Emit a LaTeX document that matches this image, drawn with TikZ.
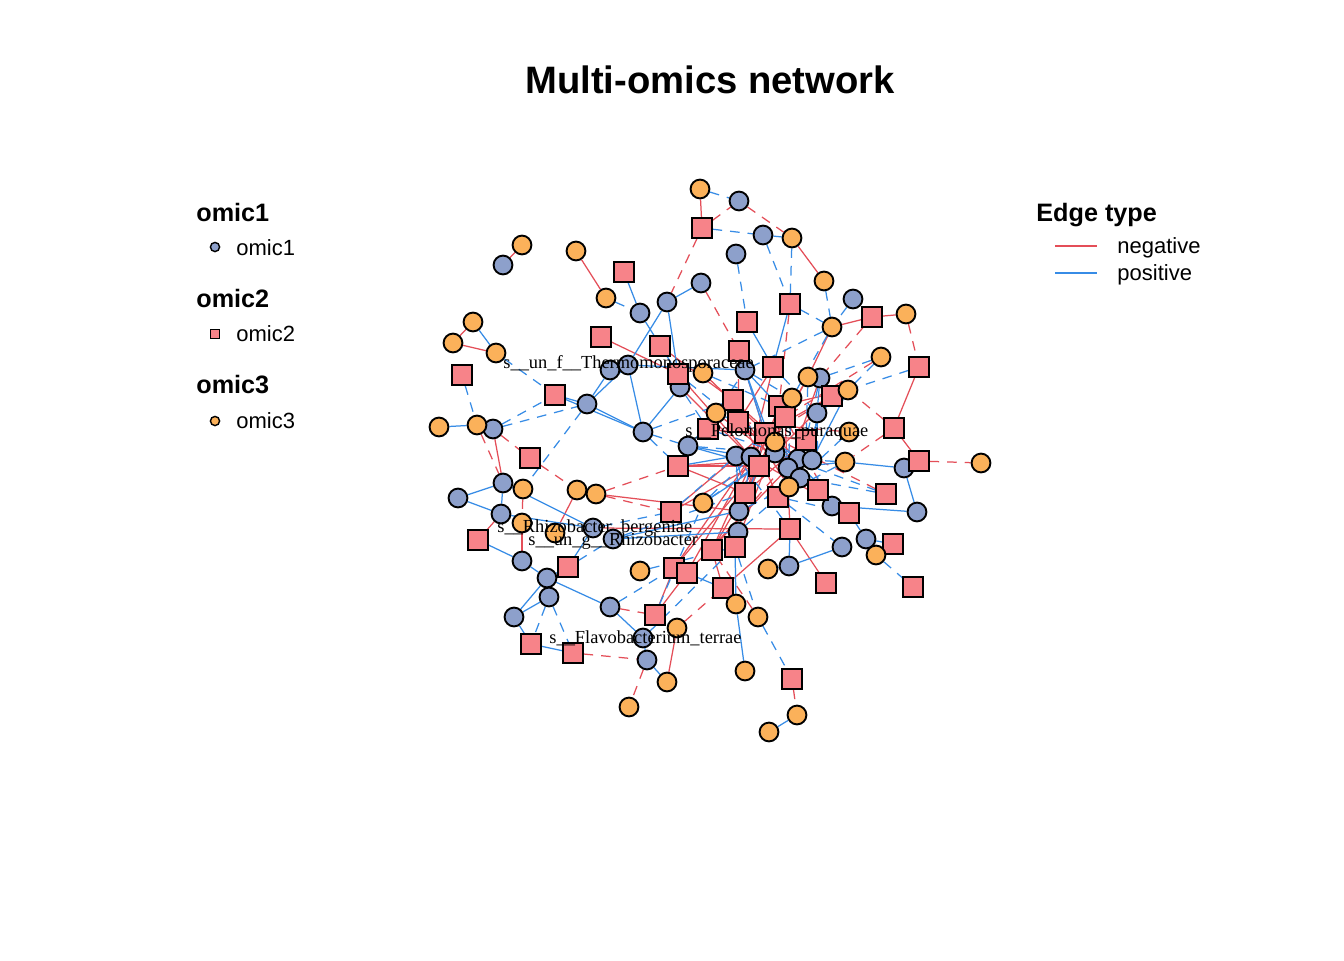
\documentclass[tikz,border=0pt]{standalone}
\usepackage{fontspec}
\setmainfont{Liberation Sans}
\newfontfamily\labfont{Liberation Serif}
\pgfdeclarelayer{bglayer}
\pgfdeclarelayer{edgelayer}
\pgfsetlayers{bglayer,edgelayer,main}
\definecolor{fillA}{RGB}{141,160,203}
\definecolor{fillB}{RGB}{247,131,137}
\definecolor{fillC}{RGB}{251,177,90}
\definecolor{negc}{RGB}{228,78,88}
\definecolor{posc}{RGB}{55,140,230}
\tikzset{
  oA/.style={circle,draw=black,line width=0.95pt,fill=fillA,minimum size=9.4pt,inner sep=0pt},
  oB/.style={rectangle,draw=black,line width=0.95pt,fill=fillB,minimum size=9.6pt,inner sep=0pt},
  oC/.style={circle,draw=black,line width=0.95pt,fill=fillC,minimum size=9.4pt,inner sep=0pt},
  negS/.style={draw=negc,line width=0.62pt},
  negD/.style={negS,dash pattern=on 4.8pt off 4pt},
  posS/.style={draw=posc,line width=0.62pt},
  posD/.style={posS,dash pattern=on 4.8pt off 4pt},
  lab/.style={font=\labfont\fontsize{9.2}{10}\selectfont,inner sep=0pt,anchor=base west},
  head/.style={font=\fontsize{12.6}{14}\selectfont\bfseries,inner sep=0pt,anchor=base west},
  legtxt/.style={font=\fontsize{11}{13}\selectfont,inner sep=0pt,anchor=base west},
  legA/.style={circle,draw=black,line width=0.7pt,fill=fillA,minimum size=4.6pt,inner sep=0pt},
  legB/.style={rectangle,draw=black,line width=0.7pt,fill=fillB,minimum size=4.6pt,inner sep=0pt},
  legC/.style={circle,draw=black,line width=0.7pt,fill=fillC,minimum size=4.6pt,inner sep=0pt},
}
\begin{document}
\begin{tikzpicture}[x=0.5pt,y=-0.5pt]
\useasboundingbox (0,0) rectangle (1344,960);
\begin{pgfonlayer}{bglayer}
\fill[white] (0,0) rectangle (1344,960);
\end{pgfonlayer}

% title
\node[font=\fontsize{19.1}{22}\selectfont\bfseries,inner sep=0pt,anchor=base] (title) at (710,93) {Multi-omics network};

% omic1 nodes
\foreach \n/\x/\y in {a1/739/201,a2/763/235,a3/736/254,a4/503/265,a5/701/283,a6/667/302,a7/640/313,a8/853/299,
  a9/610/370,a10/628/365,a11/680/387,a12/745/370,a13/820/378,a14/587/404,a15/817/413,a16/493/429,a17/643/432,
  a18/688/446,a19/736/456,a20/751/457,a21/775/453,a22/798/459,a23/812/460,a24/788/468,a25/800/478,a26/904/468,
  a27/503/483,a28/458/498,a29/501/514,a30/593/528,a31/613/539,a32/739/511,a33/832/506,a34/917/512,a35/738/532,
  a36/866/539,a37/842/547,a38/789/566,a39/522/561,a40/547/578,a41/549/597,a42/514/617,a43/610/607,a44/643/638,a45/647/660}
  \node[oA] (\n) at (\x,\y) {};

% omic2 nodes
\foreach \n/\x/\y in {b1/702/228,b2/624/272,b3/790/304,b4/872/317,b5/747/322,b6/601/337,b7/660/346,b8/739/351,
  b9/773/367,b10/919/367,b11/462/375,b12/678/374,b13/555/395,b14/832/396,b15/733/400,b16/779/406,b17/785/417,
  b18/738/422,b19/708/429,b20/765/433,b21/806/440,b22/894/428,b23/530/458,b24/678/466,b25/759/466,b26/919/461,
  b27/818/490,b28/745/493,b29/778/497,b30/886/494,b31/671/512,b32/849/513,b33/790/529,b34/478/540,b35/893/544,
  b36/712/550,b37/735/547,b38/568/567,b39/674/568,b40/687/573,b41/826/583,b42/913/587,b43/723/588,b44/655/615,
  b45/531/644,b46/573/653,b47/792/679}
  \node[oB] (\n) at (\x,\y) {};

% omic3 nodes
\foreach \n/\x/\y in {c1/700/189,c2/792/238,c3/522/245,c4/576/251,c5/606/298,c6/824/281,c7/906/314,c8/832/327,
  c9/473/322,c10/453/343,c11/496/353,c12/881/357,c13/703/373,c14/808/377,c15/848/390,c16/792/398,c17/716/413,
  c18/439/427,c19/477/425,c20/849/432,c21/775/442,c22/845/462,c23/981/463,c24/523/489,c25/577/490,c26/596/494,
  c27/789/487,c28/703/503,c29/522/523,c30/555/533,c31/876/555,c32/640/571,c33/768/569,c34/736/604,c35/758/617,
  c36/677/628,c37/667/682,c38/629/707,c39/745/671,c40/797/715,c41/769/732}
  \node[oC] (\n) at (\x,\y) {};

\begin{pgfonlayer}{edgelayer}
\foreach \u/\v in {c3/a4,c4/c5,c9/c10,c10/c11,b1/c1,c2/c6,c8/b4,b4/c7,c8/c14,b6/b12,b7/b15,b10/b22,b22/b26,
  a16/a27,c25/c30,c29/a39,b34/a29,b44/b39,b44/b40,c36/c37,b41/b33,b43/b33,b43/b36,b8/b20,b9/b18,b9/a20,
  c14/b17,c14/b25,b14/b20,b14/a21,c15/b16,b15/a22,b24/b25,b24/a22,b31/b20,b31/a21,b36/b20,b36/c21,b37/b17,
  b39/b25,b39/a20,b40/a24,b40/b20,b33/b17,b27/b18,b28/b16,b29/b15,a32/b17,b12/a20,b32/b18,b32/a20,c27/b15,
  c16/b28,b19/b21,b21/b28,a13/b29,c13/c21,a11/b25,c17/b27,c26/a32,a30/b33,b24/b28}
  \draw[negS] (\u) -- (\v);
\foreach \u/\v in {b3/b16,a5/b8,b1/a6,b1/a1,a1/c2,b4/a13,c7/b10,b22/c15,b22/c22,b26/c23,b23/c25,a16/b23,
  c19/a27,c24/c29,c26/b24,c26/b31,a43/b44,b46/a45,a45/c38,c36/b43,c35/b36,b47/c40,b8/b18,c12/b17,b14/a19,
  c20/b18,b30/b20,a33/b16,a35/b20,b36/b21}
  \draw[negD] (\u) -- (\v);
\foreach \u/\v in {a5/a6,a6/a10,a6/a11,b2/a7,a7/b12,c9/c11,c18/c19,b13/a14,b13/a17,a14/a17,a14/a9,a14/a10,
  a17/a10,a17/a11,a27/a28,a28/a29,a27/a29,a27/a30,a29/a30,a39/a40,a40/b38,a40/a42,a41/a42,a40/a43,a42/b45,
  b45/b46,a43/a44,a45/c37,c34/c39,b37/c34,c40/c41,a38/a37,a38/b33,b43/b40,a36/b35,a36/b32,a33/a34,c22/a26,
  a26/a34,a2/c2,b5/b9,b3/b9,b38/a30,a39/b34,a12/b20,a12/a21,a18/b25,a18/a20,a24/c22,a23/c15,a22/b14,a25/a33,
  a19/a32,a20/b28,c28/b25,b24/a19,a31/a32,c33/a38,a13/a15,a15/a23,b16/a12,a40/a41,a10/a12,a44/a45,a31/a35}
  \draw[posS] (\u) -- (\v);
\foreach \u/\v in {c1/a1,b1/a2,a2/b3,c2/b3,a3/b5,c6/c8,b3/c8,a8/c8,c5/a7,c11/b13,a16/b13,b11/c19,a17/b15,
  a14/c24,a17/b24,b38/a31,a43/b39,a41/b45,a41/b46,c35/b47,b37/c35,c31/b42,b30/a25,c12/a13,c8/a12,c8/c16,
  a31/b28,c17/b20,a18/a21,b19/a22,c13/b16,b12/b18,c16/a24,c14/b21,a15/b27,c20/a25,c22/b29,a32/c27,b29/a37,
  b32/c21,b33/a19,c32/b37,b44/c28,a44/b37,a16/a14,a30/b31,c28/a21,
  b10/c15,c12/c15,a17/a18,a11/b19,a12/c16,b9/a15,a13/b21,c21/a22,a19/b28,a32/b25,a35/b29,c28/a20,b31/a19,
  a18/b15,c17/a12,b21/a25,c22/a23,b27/a33,a22/c27,b29/b32,a21/b30}
  \draw[posD] (\u) -- (\v);
\end{pgfonlayer}

% node labels
\node[lab] (l1) at (503,368) {s\_\_un\_f\_\_Thermomonosporaceae};
\node[lab] (l2) at (685,436) {s\_\_Pelomonas\_puraquae};
\node[lab] (l3) at (497,532) {s\_\_Rhizobacter\_bergeniae};
\node[lab] (l4) at (528,545) {s\_\_un\_g\_\_Rhizobacter};
\node[lab] (l5) at (549,643) {s\_\_Flavobacterium\_terrae};

% left legend
\node[head] (h1) at (196,221) {omic1};
\node[legA] (m1) at (215,247) {};
\node[legtxt] (t1) at (236,255) {omic1};
\node[head] (h2) at (196,307) {omic2};
\node[legB] (m2) at (215,334) {};
\node[legtxt] (t2) at (236,341) {omic2};
\node[head] (h3) at (196,393) {omic3};
\node[legC] (m3) at (215,421) {};
\node[legtxt] (t3) at (236,428) {omic3};

% right legend
\node[head] (h4) at (1036,221) {Edge type};
\coordinate (n1) at (1055,246);
\coordinate (n2) at (1097,246);
\coordinate (p1) at (1055,273);
\coordinate (p2) at (1097,273);
\draw[negc,line width=0.7pt] (n1) -- (n2);
\draw[posc,line width=0.7pt] (p1) -- (p2);
\node[legtxt] (t4) at (1117,253) {negative};
\node[legtxt] (t5) at (1117,280) {positive};
\end{tikzpicture}
\end{document}
